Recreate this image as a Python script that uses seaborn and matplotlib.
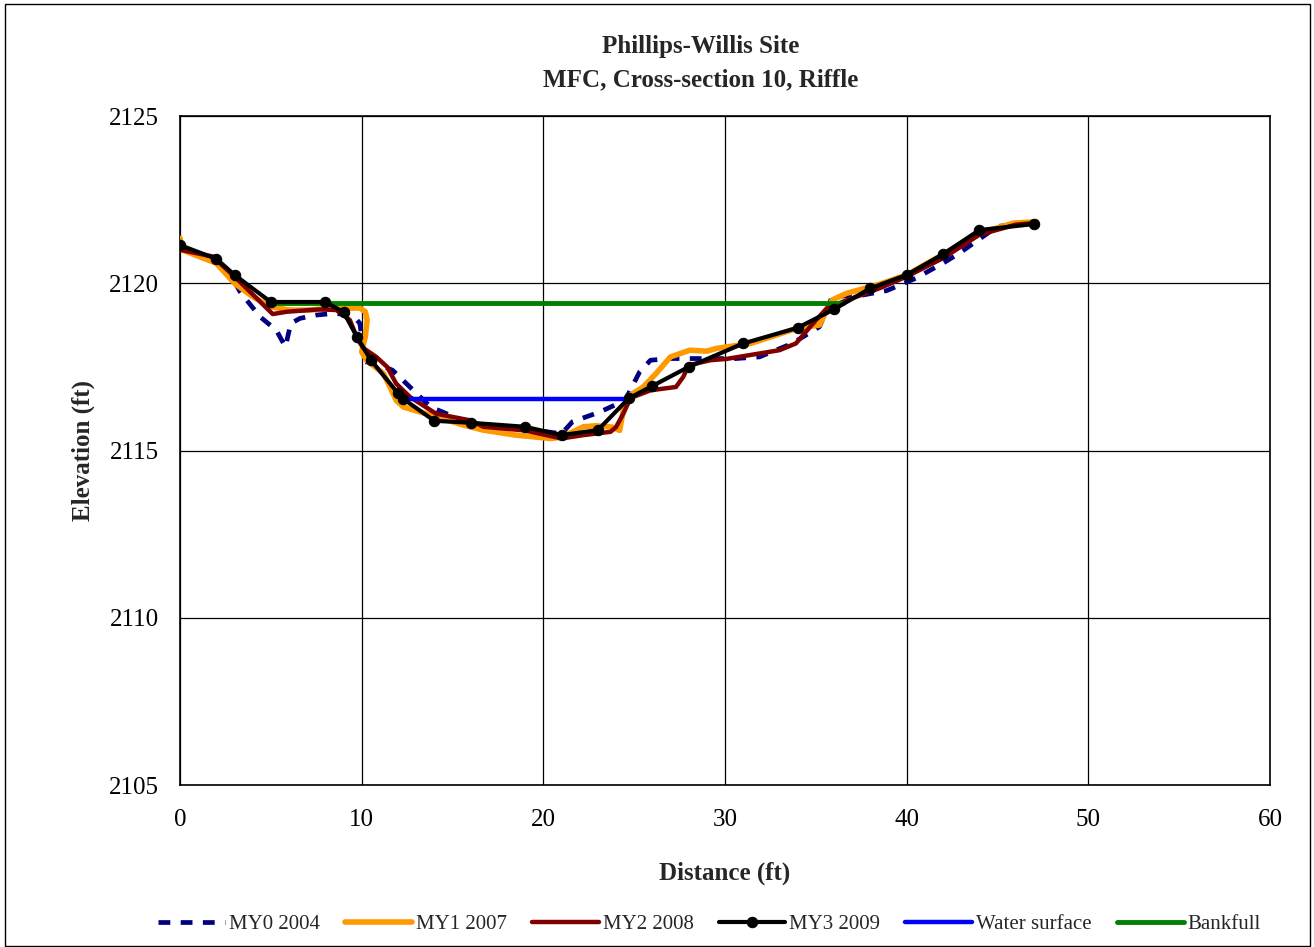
import numpy as np
import pandas as pd
import matplotlib
matplotlib.use("Agg")
import matplotlib.pyplot as plt
from matplotlib.patches import Rectangle
import seaborn as sns

# ---------------- data ----------------
my0_x = [0, 2, 3, 3.3, 4.4, 5.3, 5.8, 6.1, 6.6, 7.5, 8.5, 9.5, 9.9, 10.1, 10.1, 10.6, 11.7, 13.8, 16, 19, 21, 21.6, 23.1, 24.5, 25.3, 25.9, 27, 30.6, 31.9, 33.7, 35.2, 35.9, 37.6, 38.9, 40.5, 42, 42.9, 45, 47]
my0_y = [2121.1, 2120.6, 2120.05, 2119.75, 2119.0, 2118.6, 2118.1, 2118.8, 2118.95, 2119.05, 2119.1, 2119.05, 2118.8, 2118.0, 2117.65, 2117.65, 2117.4, 2116.3, 2115.8, 2115.65, 2115.5, 2115.86, 2116.15, 2116.5, 2117.35, 2117.7, 2117.75, 2117.75, 2117.8, 2118.2, 2118.7, 2119.6, 2119.65, 2119.78, 2120.15, 2120.6, 2120.9, 2121.7, 2121.8]

my1_x = [0, 0.1, 2, 3, 4, 5, 6, 7, 8.5, 9.9, 10.2, 10.3, 10.2, 10.0, 10.27, 11.2, 11.56, 11.9, 12.3, 13.8, 15.6, 16.7, 18.5, 20.4, 21, 22.2, 22.9, 23.8, 24.2, 24.4, 24.8, 25.5, 26.2, 27, 28.07, 29, 29.5, 31.4, 34, 35.2, 35.6, 35.9, 36.7, 38.5, 40, 41.8, 44, 45.9, 47.15]
my1_y = [2121.35, 2121.0, 2120.6, 2120.0, 2119.6, 2119.3, 2119.2, 2119.2, 2119.25, 2119.26, 2119.15, 2118.9, 2118.4, 2117.95, 2117.7, 2117.3, 2116.9, 2116.5, 2116.3, 2116.06, 2115.76, 2115.61, 2115.46, 2115.36, 2115.4, 2115.71, 2115.74, 2115.7, 2115.6, 2116.2, 2116.66, 2116.9, 2117.3, 2117.8, 2118.0, 2117.97, 2118.05, 2118.2, 2118.66, 2118.75, 2119.2, 2119.5, 2119.7, 2119.97, 2120.25, 2120.8, 2121.5, 2121.8, 2121.84]

my2_x = [0, 1.8, 3.1, 5.1, 5.9, 7.7, 8.6, 9.35, 9.8, 10.1, 10.8, 11.4, 11.9, 12.66, 14.1, 16, 16.7, 19, 21, 22.2, 23.7, 24.0, 24.4, 24.8, 25.9, 27.3, 27.7, 28.0, 29.2, 30.1, 33, 33.9, 34.85, 35.6, 36.5, 38.5, 40, 42, 44, 46, 47]
my2_y = [2121.0, 2120.8, 2120.15, 2119.08, 2119.15, 2119.22, 2119.2, 2118.9, 2118.3, 2118.06, 2117.8, 2117.5, 2117.0, 2116.6, 2116.1, 2115.9, 2115.71, 2115.6, 2115.36, 2115.46, 2115.56, 2115.7, 2116.1, 2116.57, 2116.8, 2116.9, 2117.2, 2117.55, 2117.7, 2117.74, 2118.0, 2118.2, 2118.8, 2119.25, 2119.45, 2119.85, 2120.2, 2120.75, 2121.45, 2121.75, 2121.8]

my3_x = [0, 2, 3, 5, 8, 9, 9.75, 10.5, 12, 12.3, 14, 16, 19, 21, 23, 24.7, 26, 28, 31, 34, 36, 38, 40, 42, 44, 47]
my3_y = [2121.14, 2120.73, 2120.25, 2119.44, 2119.44, 2119.14, 2118.39, 2117.71, 2116.71, 2116.54, 2115.89, 2115.83, 2115.71, 2115.46, 2115.61, 2116.56, 2116.93, 2117.5, 2118.2, 2118.67, 2119.22, 2119.85, 2120.25, 2120.87, 2121.59, 2121.77]

water_x = [12.3, 24.7]
water_y = [2116.55, 2116.55]

bank_x = [5, 36.5]
bank_y = [2119.42, 2119.42]

x_ticks = [0, 10, 20, 30, 40, 50, 60]
y_ticks = [2105, 2110, 2115, 2120, 2125]

title = "Phillips-Willis Site\nMFC, Cross-section 10, Riffle"

# ---------------- style ----------------
sns.set_theme(style="white")
plt.rcParams['font.family'] = ['Liberation Serif', 'DejaVu Serif']

fig = plt.figure(figsize=(13.14, 9.47), dpi=100)
ax = fig.add_axes([0.137, 0.171, 0.8295, 0.7065])

sns.lineplot(x=my0_x, y=my0_y, sort=False, estimator=None, ax=ax, color='#000080',
             lw=3.4, linestyle=(0, (2.5, 2.2)), label='MY0 2004', zorder=2)
sns.lineplot(x=my1_x, y=my1_y, sort=False, estimator=None, ax=ax, color='#FF9900',
             lw=4.0, label='MY1 2007', zorder=3, solid_joinstyle='round')
sns.lineplot(x=my2_x, y=my2_y, sort=False, estimator=None, ax=ax, color='#800000',
             lw=3.2, label='MY2 2008', zorder=4, solid_joinstyle='round')
sns.lineplot(x=my3_x, y=my3_y, sort=False, estimator=None, ax=ax, color='black',
             lw=3.0, marker='o', markersize=7.5, markeredgecolor='black', label='MY3 2009', zorder=6)
sns.lineplot(x=water_x, y=water_y, sort=False, estimator=None, ax=ax, color='#0000FF',
             lw=3.2, label='Water surface', zorder=5)
sns.lineplot(x=bank_x, y=bank_y, sort=False, estimator=None, ax=ax, color='#008000',
             lw=3.5, label='Bankfull', zorder=5)

ax.set_xlim(0, 60)
ax.set_ylim(2105, 2125)
ax.set_xticks(x_ticks)
ax.set_yticks(y_ticks)
ax.grid(True, color='black', lw=0.9)
ax.set_axisbelow(True)
for s in ax.spines.values():
    s.set_color('black')
    s.set_linewidth(1.2)
ax.tick_params(axis='both', direction='out', length=7, width=1, color='black',
               labelsize=18, labelcolor='black')
ax.tick_params(axis='x', pad=10)
ax.tick_params(axis='y', pad=8)

ax.set_xlabel('Distance (ft)', fontsize=18, fontweight='bold', labelpad=22)
ax.set_ylabel('Elevation (ft)', fontsize=18, fontweight='bold', labelpad=10)
fig.text(0.533, 0.933, title, fontsize=18, fontweight='bold', ha='center', va='center',
         linespacing=1.55)

leg = ax.legend(loc='center', bbox_to_anchor=(0.54, 0.024), bbox_transform=fig.transFigure,
                ncol=6, frameon=False, fontsize=15, handlelength=3.2, handletextpad=0.2,
                columnspacing=1.2)

fig.add_artist(Rectangle((0.004, 0.001), 0.993, 0.995, transform=fig.transFigure,
                         fill=False, edgecolor='black', lw=1.0))

fig.savefig('out.png', dpi=100)
